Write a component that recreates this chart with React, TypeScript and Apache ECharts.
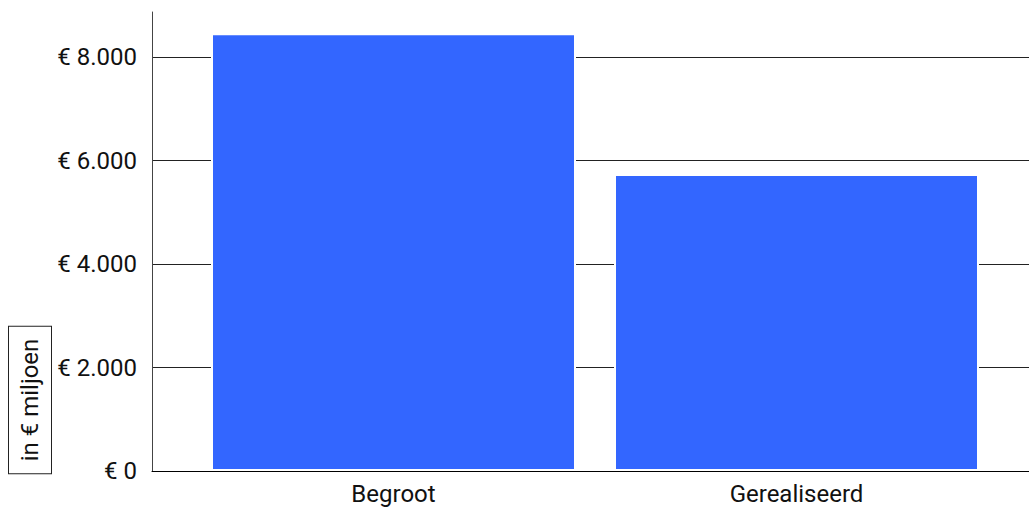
import React, { useEffect, useRef } from "react";
import * as echarts from "echarts";

const categories = ["Begroot", "Gerealiseerd"];
const values = [8460, 5740];
const yTicks = { min: 0, max: 8000, interval: 2000 };
const axisName = "in € miljoen";

const FONT = "Roboto";

function fmt(v: number): string {
  const s = Math.round(v).toString().replace(/\B(?=(\d{3})+(?!\d))/g, ".");
  return "€ " + s;
}

export default function App() {
  const ref = useRef<HTMLDivElement>(null);
  useEffect(() => {
    if (!ref.current) return;
    const chart = echarts.init(ref.current, undefined, { renderer: "svg" });
    chart.setOption({
      animation: false,
      backgroundColor: "#fff",
      grid: [
        { left: 152, right: 0, top: 57, bottom: 38 },
        { left: 152, right: 0, top: 12, bottom: 38 },
        { left: 192, right: 31, top: 57, bottom: 38 },
      ],
      xAxis: [
        {
          gridIndex: 0,
          type: "value",
          min: 0,
          max: 1,
          z: 10,
          axisLine: { show: true, onZero: false, lineStyle: { color: "#000", width: 1 } },
          axisTick: { show: false },
          axisLabel: { show: false },
          splitLine: { show: false },
        },
        { gridIndex: 1, type: "value", show: false },
        {
          gridIndex: 2,
          type: "category",
          data: categories,
          axisLine: { show: false },
          axisTick: { show: false },
          axisLabel: { fontFamily: FONT, fontSize: 24, color: "#111", margin: 11 },
        },
      ],
      yAxis: [
        {
          gridIndex: 0,
          type: "value",
          min: yTicks.min,
          max: yTicks.max,
          interval: yTicks.interval,
          axisLine: { show: false },
          axisTick: { show: false },
          splitLine: { show: true, lineStyle: { color: "#222", width: 1 } },
          axisLabel: {
            fontFamily: FONT,
            fontSize: 24,
            color: "#111",
            margin: 15,
            formatter: (v: number) => fmt(v),
          },
        },
        {
          gridIndex: 1,
          type: "value",
          min: 0,
          max: 1,
          axisLine: { show: true, lineStyle: { color: "#444", width: 1 } },
          axisTick: { show: false },
          axisLabel: { show: false },
          splitLine: { show: false },
        },
        {
          gridIndex: 2,
          type: "value",
          min: yTicks.min,
          max: yTicks.max,
          show: false,
        },
      ],
      series: [
        {
          type: "bar",
          xAxisIndex: 2,
          yAxisIndex: 2,
          data: values,
          clip: false,
          barWidth: 365,
          itemStyle: { color: "#3366FF", borderColor: "#ffffff", borderWidth: 2 },
        },
      ],
      graphic: [
        {
          type: "text",
          x: 30,
          y: 400,
          rotation: Math.PI / 2,
          style: {
            text: axisName,
            fontFamily: FONT,
            fontSize: 24,
            fill: "#111",
            align: "center",
            verticalAlign: "middle",
            borderColor: "#222",
            borderWidth: 1,
            padding: [9, 12],
            backgroundColor: "#fff",
          },
        },
      ],
    });
    return () => chart.dispose();
  }, []);
  return <div ref={ref} style={{ width: 1029, height: 509, position: "absolute", left: 0, top: 0 }} />;
}
